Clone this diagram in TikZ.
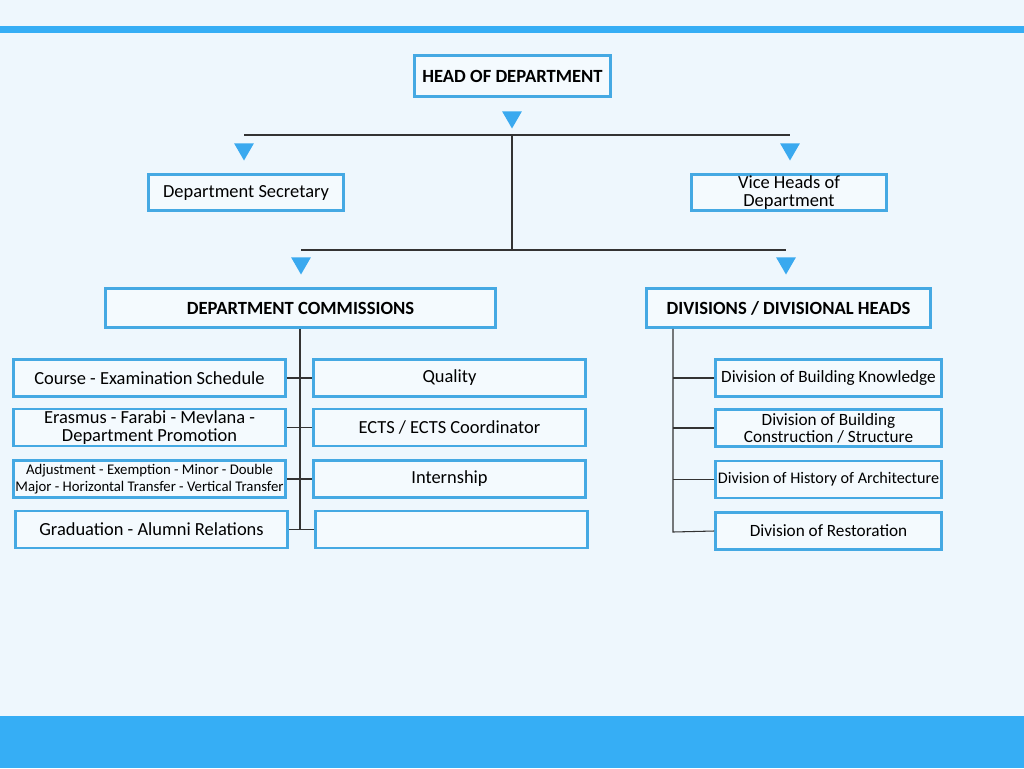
\documentclass[tikz,border=0pt]{standalone}
\usepackage{fontspec}
\setmainfont{Carlito}
\usetikzlibrary{shapes.geometric}
\definecolor{pagebg}{HTML}{EEF7FD}
\definecolor{bandblue}{HTML}{36AEF5}
\definecolor{boxblue}{HTML}{45A9E3}
\definecolor{boxfill}{HTML}{F4FAFE}
\definecolor{pointerblue}{HTML}{3AA9EF}
\definecolor{linegray}{HTML}{333333}

\begin{document}
\begin{tikzpicture}[x=0.02cm,y=-0.02cm,
    box/.style={draw=boxblue,line width=1.6pt,fill=boxfill,align=center,inner sep=1pt,
        font=\fontsize{10.5}{9.8}\selectfont},
    headbox/.style={box,font=\bfseries\fontsize{10.6}{11}\selectfont},
    smallbox/.style={box,minimum width=5.44cm,minimum height=0.74cm},
    divbox/.style={box,minimum width=4.52cm,minimum height=0.74cm,font=\fontsize{9.8}{9.8}\selectfont},
    pointer/.style={regular polygon,regular polygon sides=3,shape border rotate=180,
        fill=pointerblue,inner sep=0pt,minimum size=0.46cm},
    wire/.style={draw=linegray,line width=0.6pt}]
        \fill[pagebg] (0,0) rectangle (1024,768);
        \useasboundingbox (0,0) rectangle (1024,768);
        \fill[bandblue] (0,26) rectangle (1024,33);
        \fill[bandblue] (0,716) rectangle (1024,768);

        \node[headbox,minimum width=3.92cm,minimum height=0.82cm] (head) at (512.5,76) {HEAD OF DEPARTMENT};
        \node[box,minimum width=3.9cm,minimum height=0.72cm] (secretary) at (246,192.5) {Department Secretary};
        \node[box,minimum width=3.9cm,minimum height=0.72cm] (vice) at (789,192.5) {Vice Heads of\\Department};
        \node[headbox,minimum width=7.8cm,minimum height=0.78cm] (commissions) at (300.5,308) {DEPARTMENT COMMISSIONS};
        \node[headbox,minimum width=5.68cm,minimum height=0.78cm] (divisions) at (788.5,308) {DIVISIONS / DIVISIONAL HEADS};

        \node[pointer] (p0) at (512,117) {};
        \node[pointer] (p1) at (244,149) {};
        \node[pointer] (p2) at (790,149) {};
        \node[pointer] (p3) at (301,263) {};
        \node[pointer] (p4) at (786,263) {};

        \coordinate (busA) at (244,135);
        \coordinate (busB) at (790,135);
        \coordinate (busM) at (512,135);
        \coordinate (busC) at (301,250);
        \coordinate (busD) at (786,250);
        \coordinate (busN) at (512,250);
        \draw[wire] (busA) -- (busB);
        \draw[wire] (busM) -- (busN);
        \draw[wire] (busC) -- (busD);

        \node[smallbox] (course) at (149.5,378) {Course - Examination Schedule};
        \node[smallbox] (erasmus) at (149.5,427.5) {Erasmus - Farabi - Mevlana -\\Department Promotion};
        \node[smallbox,font=\fontsize{8.4}{9.6}\selectfont] (adjust) at (149.5,479) {Adjustment - Exemption - Minor - Double\\Major - Horizontal Transfer - Vertical Transfer};
        \node[smallbox] (graduation) at (151.5,529.5) {Graduation - Alumni Relations};
        \node[smallbox] (quality) at (449.5,378) {Quality};
        \node[smallbox] (ects) at (449.5,427.5) {ECTS / ECTS Coordinator};
        \node[smallbox] (internship) at (449.5,479) {Internship};
        \node[smallbox] (blank) at (451.5,529.5) {};

        \coordinate (comEnd) at (300,529);
        \draw[wire] (commissions.south -| comEnd) -- (comEnd);
        \draw[wire] (course.east) -- (quality.west);
        \draw[wire] (erasmus.east) -- (ects.west);
        \draw[wire] (adjust.east) -- (internship.west);
        \draw[wire] (graduation.east) -- (blank.west);

        \node[divbox] (knowledge) at (828.5,378) {Division of Building Knowledge};
        \node[divbox] (construction) at (828.5,428) {Division of Building\\Construction / Structure};
        \node[divbox,font=\fontsize{9.2}{9.8}\selectfont] (history) at (828.5,479.5) {Division of History of Architecture};
        \node[divbox] (restoration) at (828.5,531) {Division of Restoration};

        \coordinate (divEnd) at (673,532);
        \draw[wire] (divisions.south -| divEnd) -- (divEnd) -- (restoration.west);
        \draw[wire] (knowledge.west -| divEnd) -- (knowledge.west);
        \draw[wire] (construction.west -| divEnd) -- (construction.west);
        \draw[wire] (history.west -| divEnd) -- (history.west);
\end{tikzpicture}
\end{document}
